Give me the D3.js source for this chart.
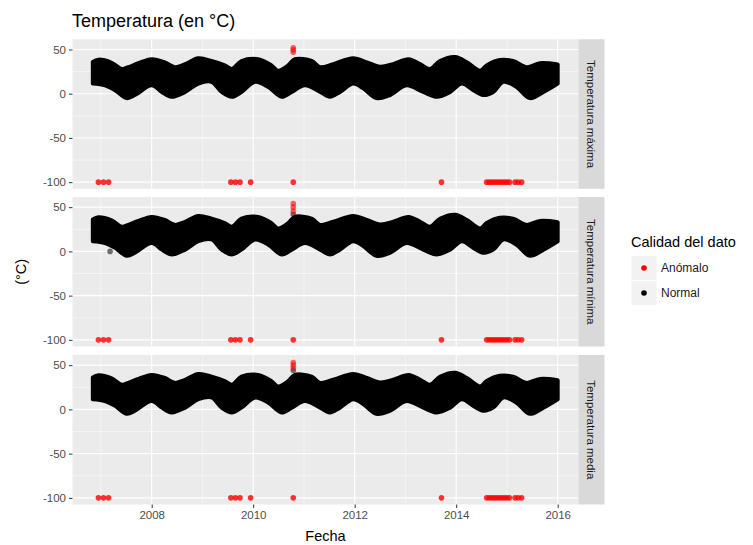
<!DOCTYPE html>
<html>
<head>
<meta charset="utf-8">
<script src="https://cdn.jsdelivr.net/npm/d3@7"></script>
<style>
  body { margin: 0; background: #fff; }
  text { font-family: "Liberation Sans", Arial, sans-serif; }
</style>
</head>
<body>
<div id="chart"></div>
<script>
// facets, top to bottom
const facets = ["Temperatura máxima", "Temperatura mínima", "Temperatura media"];

// envelope of the dense "Normal" daily cloud
const topYears = [2006.84, 2006.95, 2007.21, 2007.41, 2007.54, 2007.74, 2008.0, 2008.26, 2008.46, 2008.66,
  2008.92, 2009.18, 2009.44, 2009.58, 2009.77, 2010.1, 2010.36, 2010.49, 2010.69, 2010.82,
  2011.15, 2011.32, 2011.58, 2011.97, 2012.24, 2012.5, 2012.76, 2013.06, 2013.29, 2013.48,
  2013.68, 2013.98, 2014.21, 2014.47, 2014.6, 2014.86, 2015.12, 2015.39, 2015.65, 2016.0];
const topVals = [36, 38.5, 35, 28, 30, 34.5, 39, 35.5, 30, 33.5,
  40, 37, 32, 28, 37, 39, 32, 26, 32, 39,
  37, 30, 33.5, 40, 35.5, 30.5, 33.5, 39, 33.5, 28,
  37, 41.5, 35.5, 26, 32, 38, 37, 30, 34.5, 33];
const botYears = [2006.84, 2007.08, 2007.28, 2007.51, 2007.67, 2008.0, 2008.2, 2008.39, 2008.66, 2008.92,
  2009.18, 2009.38, 2009.58, 2009.77, 2010.04, 2010.3, 2010.56, 2010.76, 2011.02, 2011.32,
  2011.51, 2011.71, 2011.97, 2012.17, 2012.43, 2012.7, 2013.02, 2013.35, 2013.62, 2013.88,
  2014.11, 2014.34, 2014.53, 2014.73, 2014.93, 2015.19, 2015.45, 2015.72, 2016.0];
const botVals = [11.5, 9.5, 4, -5, -1.5, 9.5, 2, -3.5, 2, 11.5,
  13.5, 2, -3.5, 2, 13.5, 7.5, -3.5, 2, 9.5, 2,
  -3.5, 2, 11.5, 6, -5, -1.5, 9.5, 2, -3.5, 2,
  11.5, 4, -1.5, 2, 13.5, 7.5, -5, 2, 11.5];

// anomalous values coded as -100
const lowYears = [2006.95, 2007.05, 2007.15, 2009.56, 2009.65, 2009.74, 2009.95, 2010.79, 2013.71,
  2014.6, 2014.65, 2014.7, 2014.75, 2014.8, 2014.85, 2014.9, 2014.95, 2015.0, 2015.05,
  2015.16, 2015.22, 2015.29];
const lowValue = -100;
// high anomalies around Oct 2010, one list per facet
const highYear = 2010.79;
const highVals = [[52, 49.5, 47], [54, 50, 45.5], [53, 50, 47]];
// isolated normal points outside the cloud, one list per facet
const strayYears = [[], [2007.18, 2010.79], [2010.79]];
const strayVals = [[], [0, 42], [44]];

const xTicks = [2008, 2010, 2012, 2014, 2016];
const xMinor = [2007, 2009, 2011, 2013, 2015];
const yTicks = [50, 0, -50, -100];
const yMinor = [25, -25, -75];

const W = 753, H = 545;
const left = 72.5, right = 578.5, stripW = 26;
const panelTop = [39.3, 197, 355], panelH = 149.5;

const x = d3.scaleLinear().domain([2006.44, 2016.41]).range([left, right]);

const svg = d3.select("#chart").append("svg").attr("width", W).attr("height", H);

svg.append("text").attr("x", 72).attr("y", 27)
  .attr("font-size", 18).attr("fill", "#000").text("Temperatura (en °C)");

facets.forEach((name, i) => {
  const t = panelTop[i];
  const y = d3.scaleLinear().domain([-107.5, 61.5]).range([t + panelH, t]);
  const g = svg.append("g");

  g.append("rect").attr("x", left).attr("y", t).attr("width", right - left).attr("height", panelH)
    .attr("fill", "#ebebeb");

  // grid
  g.selectAll(".ym").data(yMinor).join("line")
    .attr("x1", left).attr("x2", right).attr("y1", d => y(d)).attr("y2", d => y(d))
    .attr("stroke", "#fff").attr("stroke-width", 0.5);
  g.selectAll(".xm").data(xMinor).join("line")
    .attr("y1", t).attr("y2", t + panelH).attr("x1", d => x(d)).attr("x2", d => x(d))
    .attr("stroke", "#fff").attr("stroke-width", 0.5);
  g.selectAll(".yM").data(yTicks).join("line")
    .attr("x1", left).attr("x2", right).attr("y1", d => y(d)).attr("y2", d => y(d))
    .attr("stroke", "#fff").attr("stroke-width", 1.1);
  g.selectAll(".xM").data(xTicks).join("line")
    .attr("y1", t).attr("y2", t + panelH).attr("x1", d => x(d)).attr("x2", d => x(d))
    .attr("stroke", "#fff").attr("stroke-width", 1.1);

  // y axis
  const ya = g.append("g").attr("transform", `translate(${left},0)`)
    .call(d3.axisLeft(y).tickValues(yTicks).tickFormat(d => String(d)).tickSize(3.5).tickPadding(3));
  ya.select(".domain").remove();
  ya.selectAll("line").attr("stroke", "#333");
  ya.selectAll("text").attr("fill", "#4d4d4d").attr("font-size", 11.5)
    .attr("font-family", "Liberation Sans, Arial, sans-serif");

  // normal cloud: smooth upper edge, then lower edge back
  const line = d3.line().x(d => x(d[0])).y(d => y(d[1])).curve(d3.curveCatmullRom);
  const upper = line(topYears.map((d, k) => [d, topVals[k]]));
  const lower = line(botYears.map((d, k) => [d, botVals[k]]).reverse());
  g.append("path")
    .attr("d", upper + "L" + lower.slice(1) + "Z")
    .attr("fill", "#000").attr("stroke", "#000").attr("stroke-width", 4)
    .attr("stroke-linejoin", "round");

  g.selectAll(".stray").data(strayYears[i]).join("circle")
    .attr("cx", d => x(d)).attr("cy", (d, k) => y(strayVals[i][k])).attr("r", 2.8)
    .attr("fill", "#000").attr("fill-opacity", 0.55);

  // anomalies
  g.selectAll(".low").data(lowYears).join("circle")
    .attr("cx", d => x(d)).attr("cy", y(lowValue)).attr("r", 2.8)
    .attr("fill", "#ff0000").attr("fill-opacity", 0.8);
  g.selectAll(".high").data(highVals[i]).join("circle")
    .attr("cx", x(highYear)).attr("cy", d => y(d)).attr("r", 2.8)
    .attr("fill", "#ff0000").attr("fill-opacity", 0.6);

  // strip
  g.append("rect").attr("x", right).attr("y", t).attr("width", stripW).attr("height", panelH)
    .attr("fill", "#d9d9d9");
  g.append("text")
    .attr("transform", `translate(${right + stripW / 2},${t + panelH / 2}) rotate(90)`)
    .attr("text-anchor", "middle").attr("dy", "0.35em")
    .attr("font-size", 11.5).attr("fill", "#1a1a1a").text(name);

  if (i === facets.length - 1) {
    const xa = g.append("g").attr("transform", `translate(0,${t + panelH})`)
      .call(d3.axisBottom(x).tickValues(xTicks).tickFormat(d3.format("d")).tickSize(3.5).tickPadding(3));
    xa.select(".domain").remove();
    xa.selectAll("line").attr("stroke", "#333");
    xa.selectAll("text").attr("fill", "#4d4d4d").attr("font-size", 11.5)
      .attr("font-family", "Liberation Sans, Arial, sans-serif");
  }
});

// axis titles
svg.append("text").attr("x", (left + right) / 2).attr("y", 541).attr("text-anchor", "middle")
  .attr("font-size", 14.5).attr("fill", "#000").text("Fecha");
svg.append("text")
  .attr("transform", `translate(26,${(panelTop[0] + panelTop[2] + panelH) / 2}) rotate(-90)`)
  .attr("text-anchor", "middle").attr("font-size", 14.5).attr("fill", "#000").text("(°C)");

// legend
const legLabels = ["Anómalo", "Normal"];
const legColors = ["#ff0000", "#000000"];
const lg = svg.append("g").attr("transform", "translate(631,0)");
lg.append("text").attr("x", 0).attr("y", 247).attr("font-size", 14.5).attr("fill", "#000")
  .text("Calidad del dato");
legLabels.forEach((lab, k) => {
  const ky = 256 + k * 25;
  lg.append("rect").attr("x", 0.5).attr("y", ky).attr("width", 25).attr("height", 24)
    .attr("fill", "#f2f2f2");
  lg.append("circle").attr("cx", 13).attr("cy", ky + 12).attr("r", 2.8).attr("fill", legColors[k]);
  lg.append("text").attr("x", 30).attr("y", ky + 16).attr("font-size", 12).attr("fill", "#1a1a1a").text(lab);
});
</script>
</body>
</html>
